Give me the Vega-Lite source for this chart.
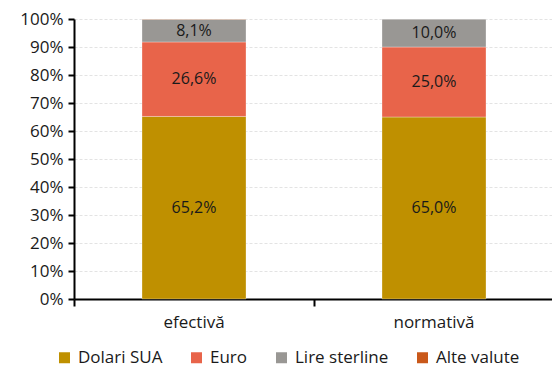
{
  "$schema": "https://vega.github.io/schema/vega-lite/v6.json",
  "width": 480,
  "height": 280,
  "autosize": {"type": "none"},
  "padding": {"left": 74, "top": 19, "right": 0, "bottom": 70},
  "background": "white",
  "config": {
    "locale": {"number": {"decimal": ",", "thousands": ".", "grouping": [3], "currency": ["", " lei"]}},
    "font": "Open Sans",
    "view": {"stroke": null}
  },
  "data": {
    "values": [
      {"cat": "efectivă", "serie": "Dolari SUA", "v": 0.652, "idx": 1},
      {"cat": "efectivă", "serie": "Euro", "v": 0.266, "idx": 2},
      {"cat": "efectivă", "serie": "Lire sterline", "v": 0.081, "idx": 3},
      {"cat": "efectivă", "serie": "Alte valute", "v": 0.001, "idx": 4},
      {"cat": "normativă", "serie": "Dolari SUA", "v": 0.65, "idx": 1},
      {"cat": "normativă", "serie": "Euro", "v": 0.25, "idx": 2},
      {"cat": "normativă", "serie": "Lire sterline", "v": 0.10, "idx": 3},
      {"cat": "normativă", "serie": "Alte valute", "v": 0.0, "idx": 4}
    ]
  },
  "encoding": {
    "x": {
      "field": "cat", "type": "nominal", "sort": null,
      "scale": {"paddingInner": 0, "paddingOuter": 0},
      "axis": {
        "title": null, "labelAngle": 0, "bandPosition": 0,
        "domainColor": "black", "domainWidth": 2, "tickColor": "black", "tickWidth": 2, "tickSize": 7,
        "labelFontSize": 17, "labelColor": "#1a1a1a", "labelPadding": 8, "grid": false
      }
    },
    "y": {
      "field": "v", "type": "quantitative", "stack": "zero",
      "scale": {"domain": [0, 1], "nice": false},
      "axis": {
        "title": null, "format": ".0%", "values": [0,0.1,0.2,0.3,0.4,0.5,0.6,0.7,0.8,0.9,1],
        "labelOverlap": false, "labelBound": false, "labelFlush": false,
        "domainColor": "black", "domainWidth": 2, "tickColor": "black", "tickWidth": 2, "tickSize": 6,
        "labelFontSize": 17, "labelColor": "#1a1a1a", "labelPadding": 5,
        "gridColor": "#e3e3e3", "gridDash": [3, 2], "gridWidth": 1
      }
    },
    "order": {"field": "idx", "type": "quantitative"}
  },
  "layer": [
    {
      "mark": {"type": "bar", "size": 104, "stroke": "white", "strokeWidth": 0.5, "strokeOpacity": 0.6},
      "encoding": {
        "color": {
          "field": "serie", "type": "nominal",
          "scale": {
            "domain": ["Dolari SUA", "Euro", "Lire sterline", "Alte valute"],
            "range": ["#BF9000", "#E8644A", "#999794", "#C9581A"]
          },
          "legend": {
            "title": null, "orient": "none", "direction": "horizontal",
            "legendX": -18, "legendY": 330,
            "symbolType": "square", "symbolSize": 121, "symbolStrokeWidth": 0,
            "labelFontSize": 17, "labelColor": "#1a1a1a", "labelOffset": 5, "columnPadding": 25
          }
        }
      }
    },
    {
      "transform": [{"filter": "datum.v > 0.01"}],
      "mark": {"type": "text", "fontSize": 16, "color": "#1a1a1a"},
      "encoding": {
        "y": {"field": "v", "type": "quantitative", "stack": "zero", "bandPosition": 0.5},
        "text": {"field": "v", "type": "quantitative", "format": ".1%"}
      }
    }
  ]
}
